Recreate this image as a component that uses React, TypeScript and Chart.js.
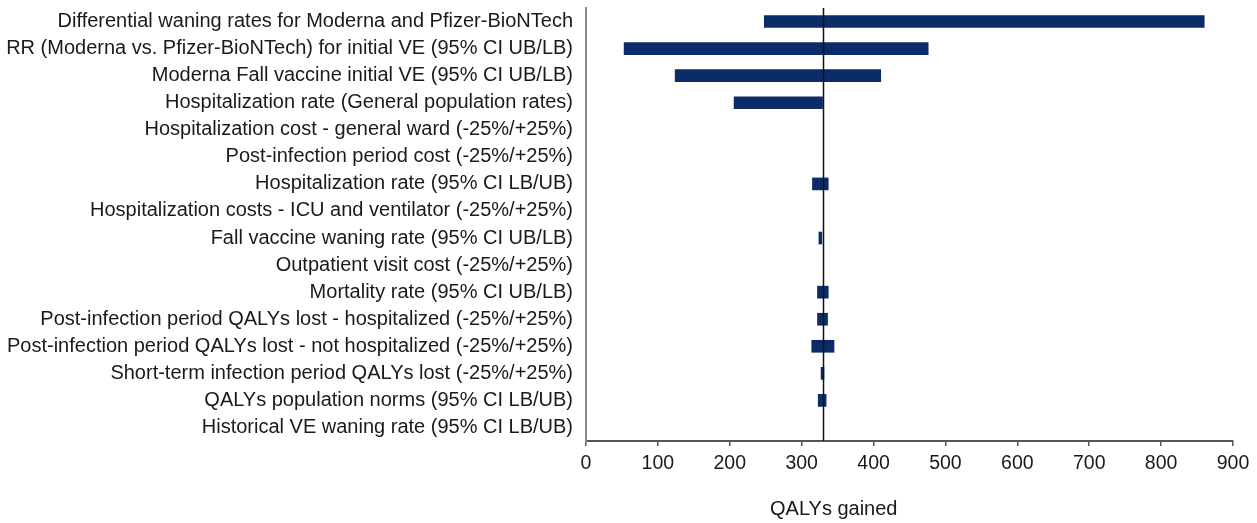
import React, { useEffect, useRef } from 'react';
import { Chart, registerables } from 'chart.js';

Chart.register(...registerables);

const categories: string[] = [
  'Differential waning rates for Moderna and Pfizer-BioNTech',
  'RR (Moderna vs. Pfizer-BioNTech) for initial VE (95% CI UB/LB)',
  'Moderna Fall vaccine initial VE (95% CI UB/LB)',
  'Hospitalization rate (General population rates)',
  'Hospitalization cost - general ward (-25%/+25%)',
  'Post-infection period cost (-25%/+25%)',
  'Hospitalization rate (95% CI LB/UB)',
  'Hospitalization costs - ICU and ventilator (-25%/+25%)',
  'Fall vaccine waning rate (95% CI UB/LB)',
  'Outpatient visit cost (-25%/+25%)',
  'Mortality rate (95% CI UB/LB)',
  'Post-infection period QALYs lost - hospitalized (-25%/+25%)',
  'Post-infection period QALYs lost - not hospitalized (-25%/+25%)',
  'Short-term infection period QALYs lost (-25%/+25%)',
  'QALYs population norms (95% CI LB/UB)',
  'Historical VE waning rate (95% CI LB/UB)',
];

const lowValues: (number | null)[] = [248, 53, 124, 206, null, null, 315, null, 324, null, 322, 322, 314, 327, 323, null];
const highValues: (number | null)[] = [860, 476, 410, 329, null, null, 337, null, 328, null, 337, 336, 345, 331, 334, null];
const baseValue = 329;
const xMin = 0;
const xMax = 900;
const xStep = 100;
const xTitle = 'QALYs gained';

export default function App() {
  const canvasRef = useRef<HTMLCanvasElement | null>(null);

  useEffect(() => {
    const canvas = canvasRef.current;
    if (!canvas) return;

    const baselinePlugin = {
      id: 'baseline',
      afterDatasetsDraw(chart: any) {
        const { ctx, chartArea, scales } = chart;
        const x = Math.round(scales.x.getPixelForValue(baseValue)) + 0.5;
        ctx.save();
        ctx.strokeStyle = '#111111';
        ctx.lineWidth = 1.5;
        ctx.beginPath();
        ctx.moveTo(x, chartArea.top);
        ctx.lineTo(x, chartArea.bottom);
        ctx.stroke();
        ctx.restore();
      },
    };

    const data = categories.map((_, i) =>
      lowValues[i] === null || highValues[i] === null ? null : [lowValues[i] as number, highValues[i] as number]
    );

    const chart = new Chart(canvas, {
      type: 'bar',
      data: {
        labels: categories,
        datasets: [
          {
            data: data as any,
            backgroundColor: '#0b2b69',
            borderWidth: 0,
            barThickness: 12,
          },
        ],
      },
      options: {
        indexAxis: 'y',
        animation: false,
        responsive: false,
        maintainAspectRatio: false,
        layout: { padding: { top: 8, right: 24, left: 0, bottom: 0 } },
        plugins: {
          legend: { display: false },
          tooltip: { enabled: false },
        },
        scales: {
          x: {
            type: 'linear',
            min: xMin,
            max: xMax,
            ticks: {
              stepSize: xStep,
              color: '#1a1a1a',
              font: { family: 'Liberation Sans', size: 19.5 },
              padding: 6,
            },
            grid: {
              drawOnChartArea: false,
              drawTicks: true,
              tickLength: 5,
              color: '#555555',
              lineWidth: 1.5,
            },
            border: { color: '#555555', width: 2 },
            afterFit(scale: any) {
              scale.height = 82;
              scale.paddingRight = 0;
              scale.paddingLeft = 0;
            },
          },
          y: {
            type: 'category',
            ticks: {
              color: '#1a1a1a',
              font: { family: 'Liberation Sans', size: 20 },
              padding: 13,
              autoSkip: false,
            },
            grid: { display: false, drawTicks: false },
            border: { color: '#8a8a8a', width: 2 },
            afterFit(scale: any) {
              scale.width = 586;
              scale.paddingTop = 0;
              scale.paddingBottom = 0;
            },
          },
        },
      },
      plugins: [baselinePlugin],
    });

    return () => chart.destroy();
  }, []);

  return (
    <div style={{ position: 'absolute', left: 0, top: 0, width: 1257, height: 523, background: '#ffffff' }}>
      <canvas ref={canvasRef} width={1257} height={523} style={{ display: 'block' }} />
      <div
        style={{
          position: 'absolute',
          left: 770,
          top: 497,
          fontFamily: 'Liberation Sans',
          fontSize: 20,
          lineHeight: '23px',
          color: '#1a1a1a',
          whiteSpace: 'nowrap',
        }}
      >
        {xTitle}
      </div>
    </div>
  );
}
